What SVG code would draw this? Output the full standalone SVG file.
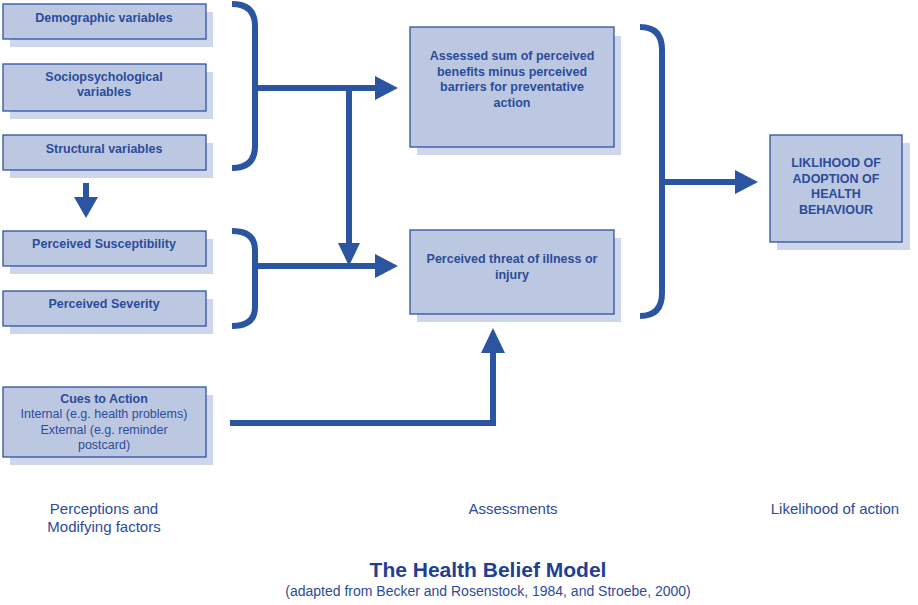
<svg xmlns="http://www.w3.org/2000/svg" width="918" height="605" viewBox="0 0 918 605">
<style>
.sh{fill:#cdd6ea}
.bx{fill:#bcc8e1;stroke:#2f52a0;stroke-width:1.3}
.t{font-family:"Liberation Sans",Arial,sans-serif;font-size:12.5px;font-weight:bold;fill:#2b4c9a;text-anchor:middle}
.n{font-family:"Liberation Sans",Arial,sans-serif;font-size:12.5px;fill:#2b4c9a;text-anchor:middle}
.c{fill:none;stroke:#2b55a0;stroke-width:6}
.a{fill:#2b55a0}
.lb{font-family:"Liberation Sans",Arial,sans-serif;font-size:15px;fill:#2b4c9a;text-anchor:middle}
</style>
<rect width="918" height="605" fill="#fff"/>
<g id="demographic"><rect class="sh" x="10" y="12" width="203" height="35"/><rect class="bx" x="3" y="4" width="203" height="35"/><text class="t" x="104" y="22">Demographic variables</text></g>
<g id="socio"><rect class="sh" x="10" y="72" width="203" height="47"/><rect class="bx" x="3" y="64" width="203" height="47"/><text class="t" x="104" y="81">Sociopsychological</text><text class="t" x="104" y="96">variables</text></g>
<g id="structural"><rect class="sh" x="10" y="143" width="203" height="35"/><rect class="bx" x="3" y="135" width="203" height="35"/><text class="t" x="104" y="153">Structural variables</text></g>
<g id="suscept"><rect class="sh" x="10" y="239" width="203" height="35"/><rect class="bx" x="3" y="231" width="203" height="35"/><text class="t" x="104" y="248">Perceived Susceptibility</text></g>
<g id="severity"><rect class="sh" x="10" y="299" width="203" height="35"/><rect class="bx" x="3" y="291" width="203" height="35"/><text class="t" x="104" y="308">Perceived Severity</text></g>
<g id="cues"><rect class="sh" x="10" y="395" width="203" height="70"/><rect class="bx" x="3" y="387" width="203" height="70"/><text class="t" x="104" y="403">Cues to Action</text><text class="n" x="104" y="418">Internal (e.g. health problems)</text><text class="n" x="104" y="434">External (e.g. reminder</text><text class="n" x="104" y="449">postcard)</text></g>
<g id="assessed"><rect class="sh" x="417" y="36" width="204" height="119"/><rect class="bx" x="410" y="27" width="204" height="120"/><text class="t" x="512" y="60">Assessed sum of perceived</text><text class="t" x="512" y="76">benefits minus perceived</text><text class="t" x="512" y="91">barriers for preventative</text><text class="t" x="512" y="107">action</text></g>
<g id="threat"><rect class="sh" x="417" y="238" width="204" height="84"/><rect class="bx" x="410" y="230" width="204" height="84"/><text class="t" x="512" y="263">Perceived threat of illness or</text><text class="t" x="512" y="279">injury</text></g>
<g id="likelihood"><rect class="sh" x="777" y="143" width="133" height="107"/><rect class="bx" x="770" y="135" width="132" height="107"/><text class="t" x="836" y="167">LIKLIHOOD OF</text><text class="t" x="836" y="183">ADOPTION OF</text><text class="t" x="836" y="198">HEALTH</text><text class="t" x="836" y="214">BEHAVIOUR</text></g>
<g id="connectors">
<path class="c" d="M232 4 Q255 4 255 26 V146 Q255 168 232 168 M255 88 H378"/>
<polygon class="a" points="375,76 398,88 375,100"/>
<path class="c" d="M349 88 V246"/>
<polygon class="a" points="338,243 349,266 360,243"/>
<path class="c" d="M232 231 Q255 231 255 250 V307 Q255 326 232 326 M255 266 H378"/>
<polygon class="a" points="375,254 398,266 375,278"/>
<path class="c" d="M640 27 Q662 27 662 50 V293 Q662 316 640 316 M662 182 H738"/>
<polygon class="a" points="735,170 758,182 735,194"/>
<path class="c" d="M86 183 V200"/>
<polygon class="a" points="74,197 86,218 98,197"/>
<path class="c" d="M230 423 H493 V350"/>
<polygon class="a" points="481,353 493,328 505,353"/>
</g>
<text class="lb" x="104" y="514">Perceptions and</text>
<text class="lb" x="104" y="532">Modifying factors</text>
<text class="lb" x="513" y="514">Assessments</text>
<text class="lb" x="835" y="514">Likelihood of action</text>
<text x="488" y="577" style="font-family:'Liberation Sans',Arial,sans-serif;font-size:21px;font-weight:bold;fill:#1f3f93;text-anchor:middle">The Health Belief Model</text>
<text x="488" y="596" style="font-family:'Liberation Sans',Arial,sans-serif;font-size:14px;fill:#2b4c9a;text-anchor:middle">(adapted from Becker and Rosenstock, 1984, and Stroebe, 2000)</text>
</svg>
